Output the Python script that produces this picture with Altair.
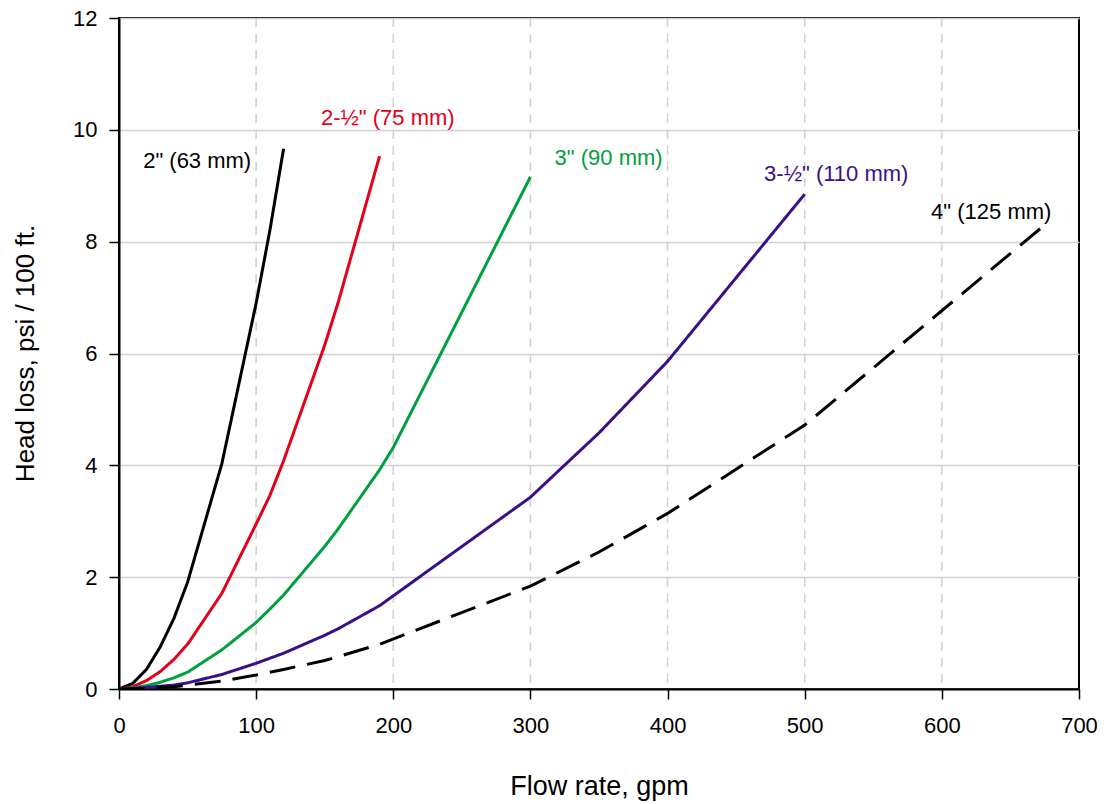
import altair as alt
import pandas as pd

# ---- data ----
series_names = ['2" (63 mm)', '2-½" (75 mm)', '3" (90 mm)', '3-½" (110 mm)', '4" (125 mm)']

x_2 = [0, 10, 20, 30, 40, 50, 75, 100, 110, 120]
y_2 = [0, 0.10, 0.35, 0.75, 1.26, 1.91, 4.03, 6.90, 8.20, 9.66]

x_25 = [0, 10, 20, 30, 40, 50, 75, 100, 110, 120, 150, 160, 190]
y_25 = [0, 0.04, 0.15, 0.31, 0.53, 0.80, 1.71, 2.95, 3.46, 4.08, 6.15, 6.93, 9.53]

x_3 = [0, 10, 20, 30, 40, 50, 75, 100, 110, 120, 150, 160, 190, 200, 300]
y_3 = [0, 0.02, 0.06, 0.12, 0.20, 0.30, 0.70, 1.19, 1.43, 1.68, 2.55, 2.87, 3.92, 4.32, 9.16]

x_35 = [0, 10, 20, 30, 40, 50, 75, 100, 120, 150, 160, 190, 300, 350, 400, 500]
y_35 = [0, 0.01, 0.03, 0.05, 0.07, 0.11, 0.26, 0.46, 0.64, 0.96, 1.08, 1.49, 3.43, 4.58, 5.86, 8.85]

x_4 = [0, 10, 20, 30, 40, 50, 75, 100, 120, 150, 160, 190, 300, 350, 400, 500, 675]
y_4 = [0, 0.005, 0.01, 0.03, 0.04, 0.07, 0.14, 0.25, 0.35, 0.51, 0.58, 0.80, 1.84, 2.45, 3.14, 4.72, 8.30]

series_colors = ["#000000", "#E3001B", "#00A03E", "#3A108A", "#000000"]
series_dash = [[1, 0], [1, 0], [1, 0], [1, 0], [26, 12]]

# label anchor points (data units)
label_x = [57, 196, 357, 523, 636]
label_y = [9.44, 10.21, 9.50, 9.21, 8.53]

x_ticks = [0, 100, 200, 300, 400, 500, 600, 700]
x_grid = [100, 200, 300, 400, 500, 600]
y_ticks = [0, 2, 4, 6, 8, 10, 12]

# ---- build tables ----
rows = []
for name, xs, ys in zip(series_names, [x_2, x_25, x_3, x_35, x_4], [y_2, y_25, y_3, y_35, y_4]):
    for xv, yv in zip(xs, ys):
        rows.append({"series": name, "flow": xv, "loss": yv})
df = pd.DataFrame(rows)
labels = pd.DataFrame({"series": series_names, "flow": label_x, "loss": label_y})
grid_df = pd.DataFrame({"flow": x_grid})

FONT = "Liberation Sans"

xscale = alt.Scale(domain=[0, 700], nice=False, zero=True)
yscale = alt.Scale(domain=[0, 12], nice=False)
color = alt.Color("series:N", scale=alt.Scale(domain=series_names, range=series_colors), legend=None)

xgrid = alt.Chart(grid_df).mark_rule(color="#d0d0d0", strokeWidth=1.5, strokeDash=[9, 7]).encode(
    x=alt.X("flow:Q", scale=xscale)
)

lines = alt.Chart(df).mark_line(strokeWidth=3, strokeCap="butt", clip=True).encode(
    x=alt.X("flow:Q", scale=xscale,
            axis=alt.Axis(values=x_ticks, title="Flow rate, gpm", grid=False, format="d",
                          labelFlush=False, labelOverlap=False,
                          tickSize=10, tickColor="black", tickWidth=1.5,
                          domainColor="black", domainWidth=2,
                          labelFont=FONT, labelFontSize=22, labelColor="black", labelPadding=16,
                          titleFont=FONT, titleFontSize=27, titleFontWeight="normal", titleColor="black",
                          titleX=480, titleY=97, titleBaseline="middle", titleAlign="center")),
    y=alt.Y("loss:Q", scale=yscale,
            axis=alt.Axis(values=y_ticks, title="Head loss, psi / 100 ft.", grid=True, format="d",
                          labelFlush=False, labelOverlap=False,
                          gridColor="#d0d0d0", gridWidth=1.5,
                          tickSize=10, tickColor="black", tickWidth=1.5,
                          domainColor="black", domainWidth=2,
                          labelFont=FONT, labelFontSize=22, labelColor="black", labelPadding=12,
                          titleFont=FONT, titleFontSize=26, titleFontWeight="normal", titleColor="black",
                          titleX=-94, titleY=335, titleAngle=-90, titleBaseline="middle",
                          titleAlign="center")),
    color=color,
    strokeDash=alt.StrokeDash("series:N", scale=alt.Scale(domain=series_names, range=series_dash), legend=None),
)

texts = alt.Chart(labels).mark_text(font=FONT, fontSize=22, align="center", baseline="middle").encode(
    x=alt.X("flow:Q", scale=xscale),
    y=alt.Y("loss:Q", scale=yscale),
    text="series:N",
    color=color,
)

chart = alt.layer(xgrid, lines, texts).properties(
    width=960, height=671,
    autosize=alt.AutoSizeParams(type="none"),
    padding={"left": 119, "top": 18, "right": 25, "bottom": 115},
    background="white",
).configure_view(stroke="black", strokeWidth=2)

chart.save("out.html", embed_options={"renderer": "svg", "actions": False})
